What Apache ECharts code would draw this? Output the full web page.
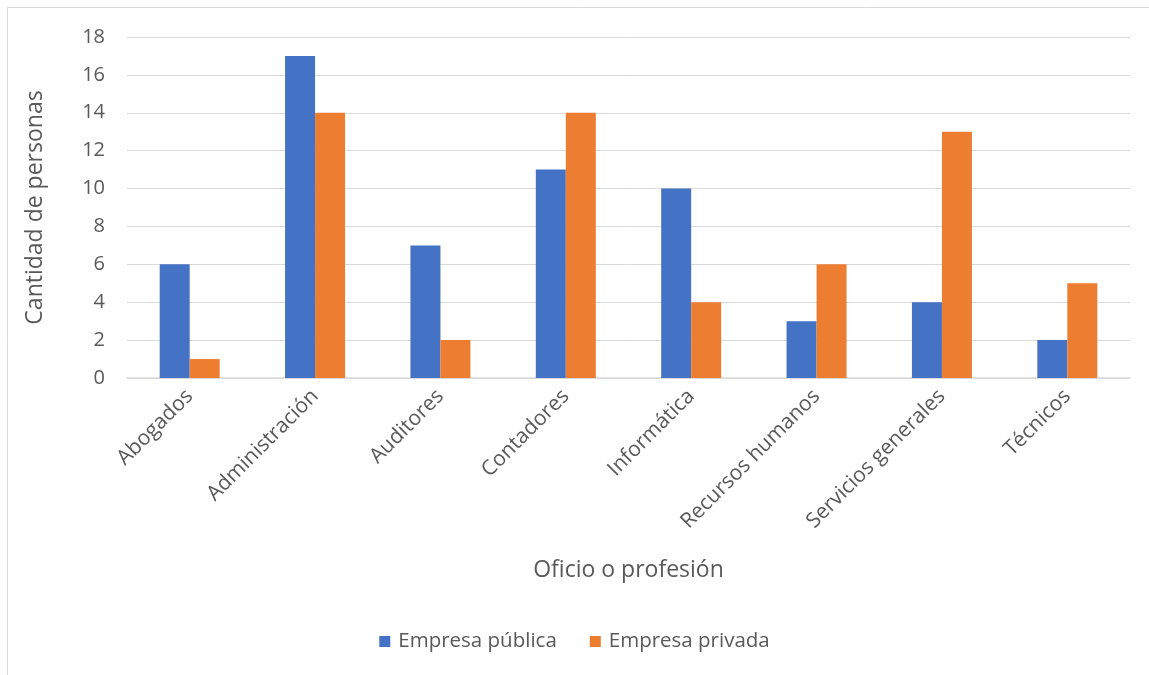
<!DOCTYPE html>
<html><head><meta charset="utf-8">
<script src="https://cdn.jsdelivr.net/npm/echarts@6/dist/echarts.min.js"></script>
<style>html,body{margin:0;padding:0;background:#fff}#c{width:1149px;height:675px}</style>
</head><body><div id="c"></div>
<script>
const categories = ['Abogados','Administración','Auditores','Contadores','Informática','Recursos humanos','Servicios generales','Técnicos'];
const publica = [6,17,7,11,10,3,4,2];
const privada = [1,14,2,14,4,6,13,5];
const seriesNames = ['Empresa pública','Empresa privada'];
const FONT = '"Open Sans", sans-serif';
const chart = echarts.init(document.getElementById('c'), null, {renderer:'canvas'});
chart.setOption({
  animation:false,
  textStyle:{fontFamily:FONT},
  graphic:[{type:'rect',shape:{x:7.5,y:7.5,width:1160,height:700},style:{fill:null,stroke:'#d9d9d9',lineWidth:1},silent:true}],
  grid:{left:127,right:19,top:37,bottom:297,containLabel:false},
  legend:{bottom:18,left:'center',itemWidth:11,itemHeight:11,itemGap:33,icon:'rect',
    textStyle:{fontFamily:FONT,fontSize:20.5,color:'#595959',padding:[0,0,0,3]},data:seriesNames},
  xAxis:{type:'category',data:categories,
    axisLine:{lineStyle:{color:'#d9d9d9',width:1.5}},axisTick:{show:false},
    axisLabel:{rotate:45,interval:0,fontFamily:FONT,fontSize:21,color:'#595959',margin:15},
    name:'Oficio o profesión',nameLocation:'middle',nameGap:181,
    nameTextStyle:{fontFamily:FONT,fontSize:23,color:'#595959'}},
  yAxis:{type:'value',min:0,max:18,interval:2,
    axisLine:{show:false},axisTick:{show:false},
    splitLine:{lineStyle:{color:'#d9d9d9',width:1}},
    axisLabel:{fontFamily:FONT,fontSize:20,color:'#595959',margin:22},
    name:'Cantidad de personas',nameLocation:'middle',nameGap:80,nameRotate:90,
    nameTextStyle:{fontFamily:FONT,fontSize:23,color:'#595959'}},
  series:[
    {name:seriesNames[0],type:'bar',data:publica,barWidth:30,barGap:'0%',itemStyle:{color:'#4472c4'}},
    {name:seriesNames[1],type:'bar',data:privada,barWidth:30,barGap:'0%',itemStyle:{color:'#ed7d31'}}
  ]
});
</script></body></html>
